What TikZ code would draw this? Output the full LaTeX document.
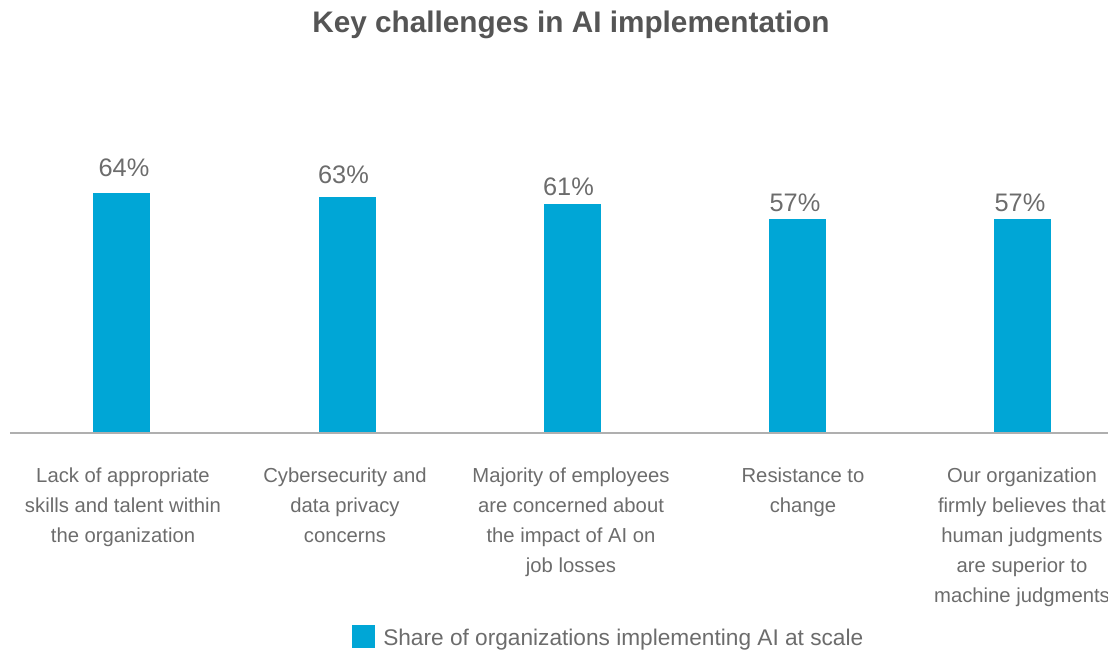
\documentclass[tikz,border=0pt]{standalone}
\usepackage{fontspec}
\setmainfont{Liberation Sans}
\usetikzlibrary{positioning}
\definecolor{barblue}{RGB}{0,166,214}
\definecolor{txtgray}{RGB}{108,108,108}
\definecolor{titlegray}{RGB}{85,85,85}
\definecolor{axisgray}{RGB}{175,175,175}

\begin{document}
\begin{tikzpicture}[x=0.75pt,y=-0.75pt,
  bar/.style={fill=barblue,draw=none},
  pct/.style={text=txtgray,font=\fontsize{19}{22}\selectfont,inner sep=0pt,anchor=base},
  cat/.style={text=txtgray,font=\fontsize{15.2}{22.5}\selectfont,align=center,inner sep=0pt,anchor=north}]
\useasboundingbox (0,0) rectangle (1108,653);
\clip (0,0) rectangle (1108,653);
\node[text=titlegray,font=\bfseries\fontsize{22.3}{26}\selectfont,inner sep=0pt] (title) at (571,25) {Key challenges in AI implementation};
% bars
\foreach \x/\v in {121.5/64,347.5/63,572.5/61,797.5/57,1022.5/57}
  \path[bar] (\x-28.5,433) rectangle (\x+28.5,433-3.75*\v);
\draw [axisgray, line width=1.5pt] (10,433)--(1120,433);
\node[pct] (p1) at (124,176) {64\%};
\node[pct] (p2) at (343.5,183) {63\%};
\node[pct] (p3) at (568.5,195) {61\%};
\node[pct] (p4) at (795,211) {57\%};
\node[pct] (p5) at (1020,211) {57\%};
% categories
\node[cat] (c1) at (123,468) {Lack of appropriate\\skills and talent within\\the organization};
\node[cat] (c2) at (345,468) {Cybersecurity and\\data privacy\\concerns};
\node[cat] (c3) at (571,468) {Majority of employees\\are concerned about\\the impact of AI on\\job losses};
\node[cat] (c4) at (803,468) {Resistance to\\change};
\node[cat] (c5) at (1022,468) {Our organization\\firmly believes that\\human judgments\\are superior to\\machine judgments};
% legend
\node[fill=barblue,minimum size=17.25pt,inner sep=0pt] (key) at (363.5,636) {};
\node[text=txtgray,font=\fontsize{17}{21}\selectfont,inner sep=0pt,anchor=base west] (keytxt) at (383,645) {Share of organizations implementing AI at scale};
\end{tikzpicture}
\end{document}
